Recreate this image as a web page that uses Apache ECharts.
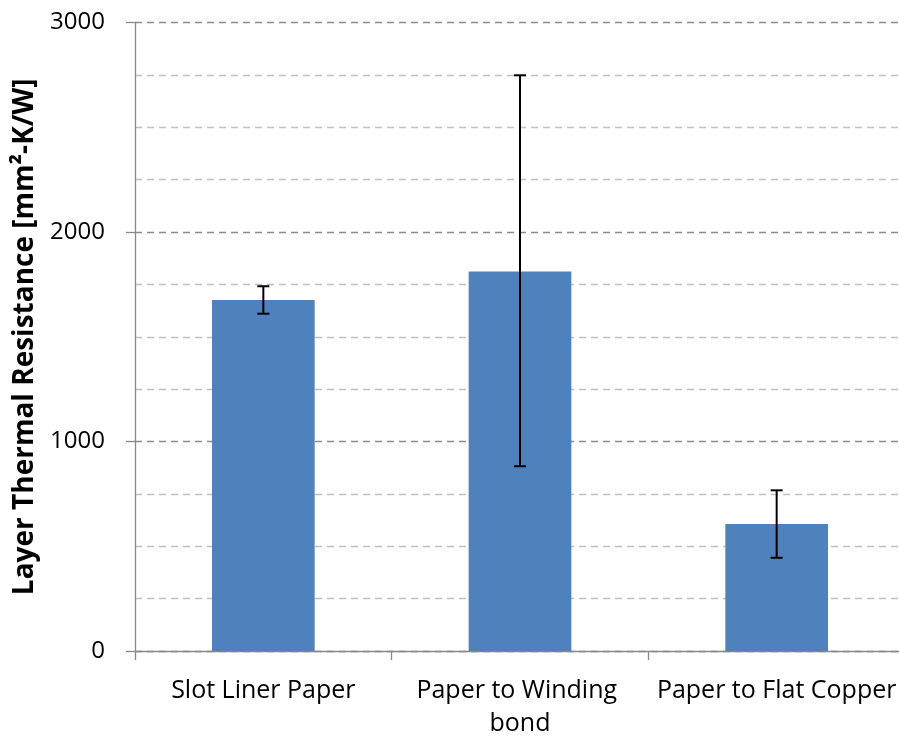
<!DOCTYPE html>
<html><head><meta charset="utf-8">
<script src="https://cdn.jsdelivr.net/npm/echarts@6/dist/echarts.min.js"></script>
<style>html,body{margin:0;padding:0;background:#fff}#c{width:899px;height:736px}</style>
</head><body><div id="c"></div>
<script>
const categories = ['Slot Liner Paper', 'Paper to Winding bond', 'Paper to Flat Copper'];
const values = [1675, 1812, 606];
const errLow = [1610, 882, 445];
const errHigh = [1741, 2748, 767];
const yTitle = 'Layer Thermal Resistance [mm²-K/W]';

const chart = echarts.init(document.getElementById('c'));
const FONT = 'Open Sans';
chart.setOption({
  animation: false,
  grid: { left: 135, top: 22.5, width: 770, height: 628.5, outerBoundsMode: 'none', containLabel: false },
  xAxis: {
    type: 'category', data: categories,
    axisLine: { lineStyle: { color: '#888', width: 1.3 } },
    axisTick: { show: true, length: 9, interval: 0, lineStyle: { color: '#888', width: 1.3 } },
    axisLabel: { color: '#000', fontSize: 25, fontFamily: FONT, margin: 23, interval: 0, width: 250, overflow: 'break', lineHeight: 33 }
  },
  yAxis: {
    type: 'value', min: 0, max: 3000, interval: 1000,
    axisLine: { show: true, lineStyle: { color: '#888', width: 1.3 } },
    axisTick: { show: true, length: 9, lineStyle: { color: '#888', width: 1.3 } },
    axisLabel: { color: '#000', fontSize: 24, fontFamily: FONT, margin: 30, formatter: v => String(v) },
    splitLine: { show: true, lineStyle: { color: '#8c8c8c', type: [7, 5], width: 1.3 } },
    minorTick: { show: false, splitNumber: 4 },
    minorSplitLine: { show: true, lineStyle: { color: '#c0c0c0', type: [7, 5], width: 1.3 } },
    name: yTitle, nameLocation: 'middle', nameGap: 91,
    nameTextStyle: { color: '#000', fontSize: 28, fontWeight: 'bold', fontFamily: FONT }
  },
  series: [
    { type: 'bar', data: values, barWidth: '40%', itemStyle: { color: '#4F81BD' }, z: 2 },
    {
      type: 'custom', z: 3,
      data: categories.map((c, i) => [i, errLow[i], errHigh[i]]),
      renderItem: function (params, api) {
        const lo = api.coord([api.value(0), api.value(1)]);
        const hi = api.coord([api.value(0), api.value(2)]);
        const hw = 6;
        const st = { stroke: '#000', lineWidth: 2 };
        return { type: 'group', children: [
          { type: 'line', shape: { x1: hi[0], y1: hi[1], x2: lo[0], y2: lo[1] }, style: st },
          { type: 'line', shape: { x1: hi[0] - hw, y1: hi[1], x2: hi[0] + hw, y2: hi[1] }, style: st },
          { type: 'line', shape: { x1: lo[0] - hw, y1: lo[1], x2: lo[0] + hw, y2: lo[1] }, style: st }
        ]};
      }
    }
  ]
});
</script></body></html>
